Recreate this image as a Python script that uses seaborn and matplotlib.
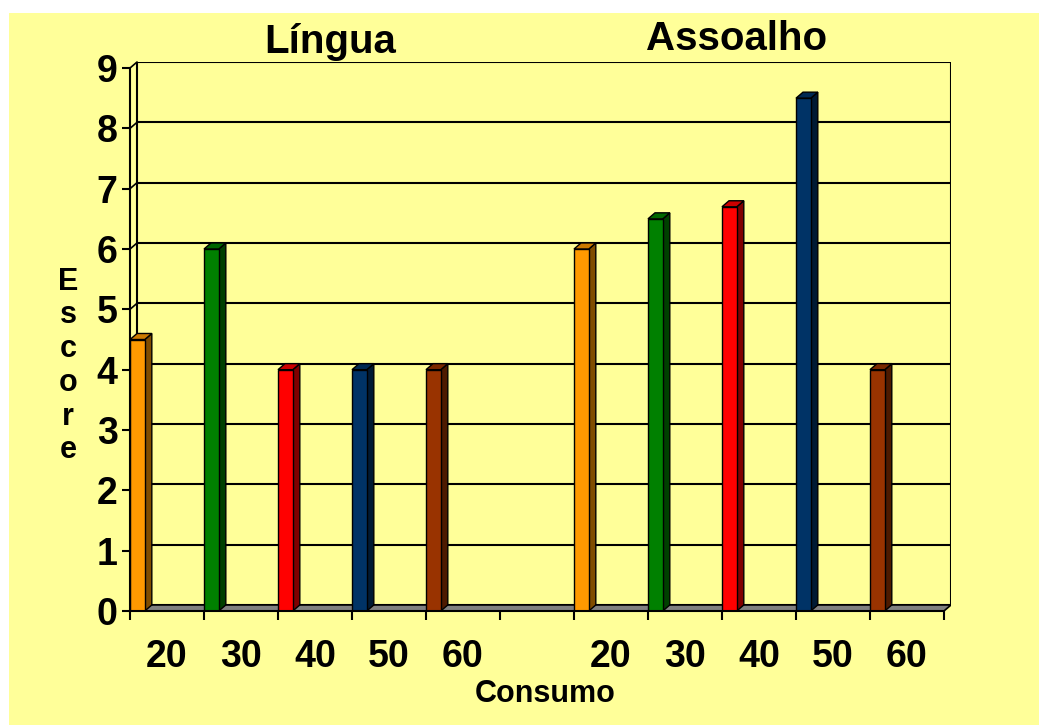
import numpy as np
import pandas as pd
import matplotlib
matplotlib.use("Agg")
import matplotlib.pyplot as plt
from matplotlib.patches import Polygon, Rectangle
import matplotlib.colors as mcolors
import seaborn as sns

# Data
groups = ["Língua", "Assoalho"]
consumo = ["20", "30", "40", "50", "60"]
lingua_scores = [4.5, 6.0, 4.0, 4.0, 4.0]
assoalho_scores = [6.0, 6.5, 6.7, 8.5, 4.0]
bar_colors = ["#FF9900", "#008000", "#FF0000", "#003366", "#993300"]

BG = "#FFFF99"
DX, DY = 0.095, 0.1          # depth offset of the 3-D look (data units)
BAR_W = 0.2                   # bar width, in category slots
N_SLOTS = 11                  # 5 + gap + 5

# Build a long table: slot index, score, colour key
rows = []
slot = 0
for g, scores in zip(groups, [lingua_scores, assoalho_scores]):
    for c, s, col in zip(consumo, scores, bar_colors):
        rows.append({"pos": slot + BAR_W / 2, "score": s, "key": f"{g}-{c}",
                     "color": col, "label": c})
        slot += 1
    slot += 1  # empty slot between groups
df = pd.DataFrame(rows)

sns.set_theme(style="white")
plt.rcParams["font.family"] = ["Liberation Sans", "DejaVu Sans"]
plt.rcParams["font.weight"] = "bold"
plt.rcParams["text.color"] = "black"
plt.rcParams["xtick.color"] = "black"
plt.rcParams["ytick.color"] = "black"
plt.rcParams["xtick.labelcolor"] = "black"
plt.rcParams["ytick.labelcolor"] = "black"

fig = plt.figure(figsize=(10.39, 7.25), dpi=100, facecolor="white")
# yellow chart area with a thin white margin on the left and top
fig.patches.append(Rectangle((9 / 1039, 0), 1 - 9 / 1039, 1 - 13 / 725,
                             transform=fig.transFigure, facecolor=BG,
                             edgecolor="none", zorder=-10))

ax = fig.add_axes([130 / 1039, 114 / 725, 821 / 1039, 549 / 725])
ax.set_facecolor("none")

palette = dict(zip(df["key"], df["color"]))
sns.barplot(data=df, x="pos", y="score", hue="key", palette=palette,
            native_scale=True, width=BAR_W, dodge=False, legend=False,
            edgecolor="black", linewidth=1.0, saturation=1, ax=ax, zorder=5)

ax.set_xlim(0, N_SLOTS + DX)
ax.set_ylim(0, 9 + DY)

# back wall, gridlines and floor
ax.add_patch(Rectangle((DX, DY), N_SLOTS, 9, facecolor=BG, edgecolor="black",
                       linewidth=1.5, zorder=0))
for k in range(1, 9):
    ax.plot([DX, N_SLOTS + DX], [k + DY, k + DY], color="black", lw=1.5, zorder=1)
for k in range(0, 10):
    ax.plot([0, DX], [k, k + DY], color="black", lw=1.2, zorder=1, clip_on=False)
ax.add_patch(Polygon([(0, 0), (N_SLOTS, 0), (N_SLOTS + DX, DY), (DX, DY)],
                     closed=True, facecolor="#808080", edgecolor="black",
                     linewidth=1.2, zorder=2))

# give each bar a shaded side and top
for p in list(ax.patches):
    if not isinstance(p, Rectangle) or p.get_height() <= 0 or p.get_zorder() != 5:
        continue
    x0, w, h = p.get_x(), p.get_width(), p.get_height()
    x1 = x0 + w
    rgb = np.array(mcolors.to_rgb(p.get_facecolor()))
    side = Polygon([(x1, 0), (x1 + DX, DY), (x1 + DX, h + DY), (x1, h)],
                   closed=True, facecolor=rgb * 0.5, edgecolor="black",
                   linewidth=1.0, zorder=4)
    top = Polygon([(x0, h), (x1, h), (x1 + DX, h + DY), (x0 + DX, h + DY)],
                  closed=True, facecolor=rgb * 0.8, edgecolor="black",
                  linewidth=1.0, zorder=4)
    ax.add_patch(side)
    ax.add_patch(top)

# spines
for s in ["top", "right"]:
    ax.spines[s].set_visible(False)
ax.spines["left"].set_bounds(0, 9)
ax.spines["bottom"].set_bounds(0, N_SLOTS)
for s in ["left", "bottom"]:
    ax.spines[s].set_color("black")
    ax.spines[s].set_linewidth(1.5)
    ax.spines[s].set_zorder(6)

# y ticks
ax.set_yticks(range(0, 10))
ax.set_yticklabels([str(v) for v in range(0, 10)], fontsize=27,
                   fontweight="bold", color="black")
ax.tick_params(axis="y", direction="out", length=6, width=1.5, pad=3, left=True,
               colors="black")

# x ticks at slot boundaries, labels at slot centres
ax.set_xticks(range(0, N_SLOTS + 1))
ax.set_xticklabels([])
ax.tick_params(axis="x", which="major", direction="out", length=6.5, width=1.5,
               bottom=True, colors="black")
centres = [i + 0.5 for i in range(N_SLOTS)]
labels = consumo + [""] + consumo
ax.set_xticks(centres, minor=True)
ax.set_xticklabels(labels, minor=True, fontsize=27, fontweight="bold",
                   color="black")
ax.tick_params(axis="x", which="minor", length=0, pad=20)
ax.set_xlabel("")
ax.set_ylabel("")

# axis titles
fig.text(545 / 1039, 1 - 694 / 725, "Consumo", ha="center", va="center",
         fontsize=22, fontweight="bold", color="black")
fig.text(68 / 1039, 1 - 366 / 725, "\n".join("Escore"), ha="center", va="center",
         fontsize=22, fontweight="bold", linespacing=1.16, color="black")

# group titles
fig.text(330 / 1039, 1 - 42 / 725, groups[0], ha="center", va="center",
         fontsize=29, fontweight="bold", color="black")
fig.text(737 / 1039, 1 - 39 / 725, groups[1], ha="center", va="center",
         fontsize=29, fontweight="bold", color="black")

fig.savefig("out.png", dpi=100, facecolor=fig.get_facecolor())
